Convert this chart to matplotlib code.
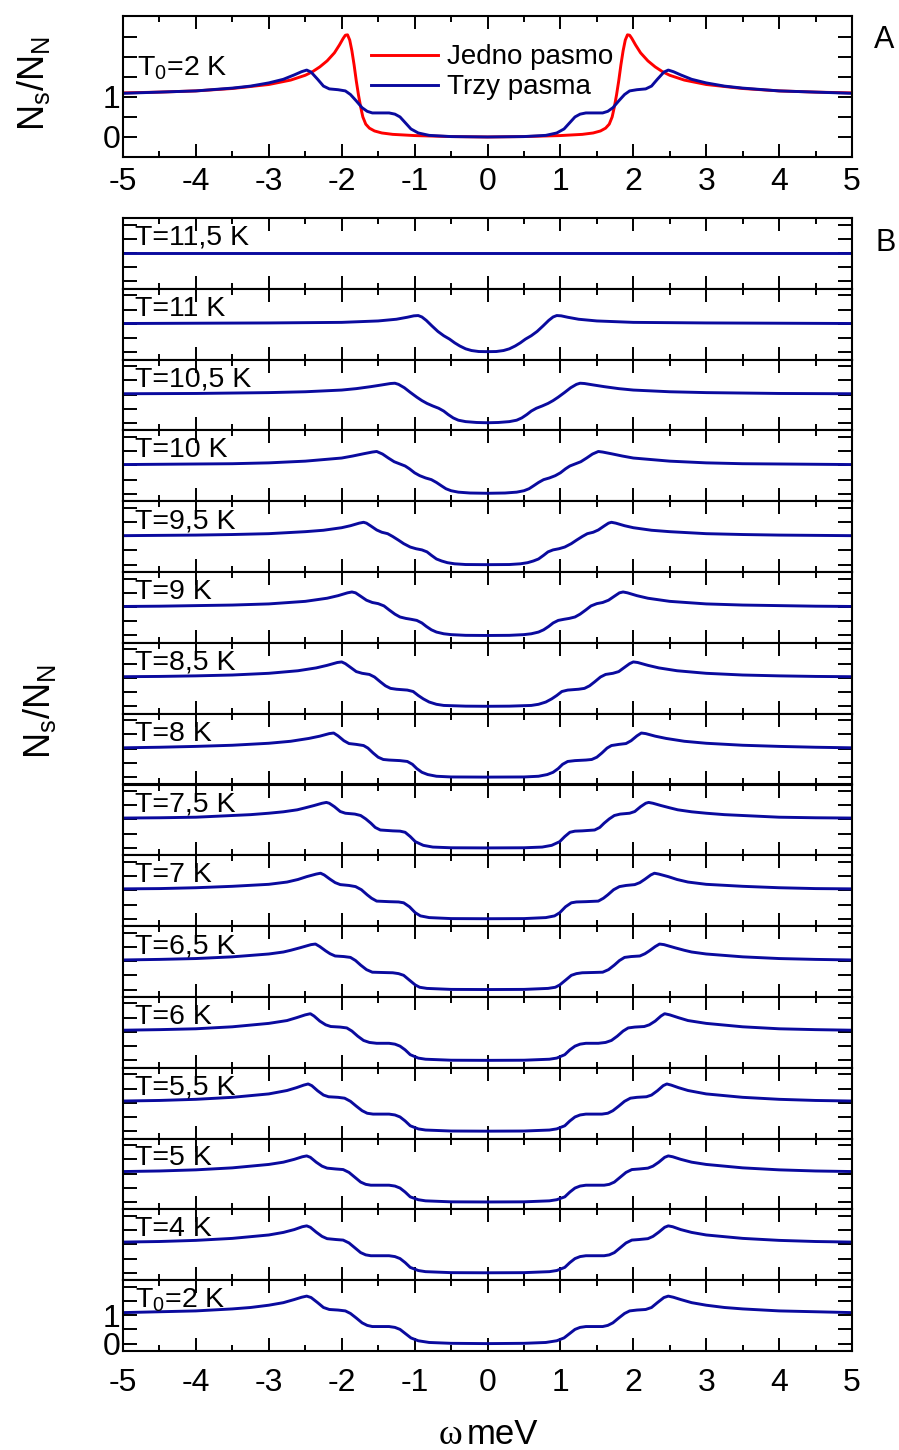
import numpy as np
import matplotlib
matplotlib.use("Agg")
import matplotlib.pyplot as plt

plt.rcParams['font.family'] = ['Liberation Sans', 'DejaVu Sans']
plt.rcParams['mathtext.fontset'] = 'custom'
plt.rcParams['mathtext.rm'] = 'Liberation Sans'
plt.rcParams['mathtext.it'] = 'Liberation Sans'
plt.rcParams['mathtext.default'] = 'regular'

# ---- data: (omega, Ns/NN) for omega >= 0; the curves are symmetric in omega ----
one_band = [(0, 0.0), (0.5, 0.01), (1.0, 0.035), (1.3, 0.065), (1.45, 0.1), (1.55, 0.15), (1.62, 0.22),
            (1.67, 0.32), (1.71, 0.5), (1.74, 0.75), (1.77, 1.05), (1.8, 1.4), (1.83, 1.8), (1.86, 2.15),
            (1.89, 2.42), (1.92, 2.55), (1.95, 2.54), (1.98, 2.46), (2.03, 2.3), (2.1, 2.1), (2.2, 1.9),
            (2.3, 1.75), (2.4, 1.63), (2.5, 1.54), (2.7, 1.42), (3.0, 1.31), (3.5, 1.21), (4.0, 1.15),
            (4.5, 1.12), (5.0, 1.1)]

T2 = [(0, 0.0), (0.5, 0.01), (0.8, 0.04), (0.95, 0.1), (1.05, 0.2), (1.13, 0.36), (1.2, 0.5), (1.27, 0.57),
      (1.35, 0.6), (1.58, 0.6), (1.65, 0.64), (1.72, 0.73), (1.8, 0.9), (1.88, 1.06), (1.95, 1.15),
      (2.05, 1.18), (2.17, 1.2), (2.25, 1.27), (2.33, 1.44), (2.42, 1.62), (2.48, 1.67), (2.55, 1.63),
      (2.65, 1.55), (2.8, 1.44), (3.0, 1.35), (3.25, 1.27), (3.5, 1.22), (4.0, 1.15), (4.5, 1.12), (5.0, 1.09)]

T4 = [(0, 0.0), (0.5, 0.005), (0.85, 0.04), (0.95, 0.08), (1.06, 0.19), (1.13, 0.36), (1.2, 0.5),
      (1.27, 0.57), (1.35, 0.6), (1.6, 0.6), (1.67, 0.63), (1.74, 0.71), (1.82, 0.88), (1.9, 1.05),
      (1.98, 1.15), (2.08, 1.17), (2.2, 1.2), (2.27, 1.28), (2.35, 1.43), (2.43, 1.6), (2.48, 1.65),
      (2.54, 1.62), (2.65, 1.52), (2.8, 1.42), (3.0, 1.33), (3.5, 1.21), (4.0, 1.14), (4.5, 1.1), (5.0, 1.08)]

T5 = [(0, 0.0), (0.5, 0.005), (0.85, 0.04), (0.95, 0.08), (1.06, 0.18), (1.13, 0.35), (1.2, 0.49),
      (1.27, 0.56), (1.35, 0.59), (1.6, 0.59), (1.67, 0.62), (1.74, 0.7), (1.82, 0.87), (1.9, 1.04),
      (1.98, 1.14), (2.08, 1.16), (2.2, 1.19), (2.27, 1.26), (2.35, 1.4), (2.43, 1.57), (2.48, 1.62),
      (2.54, 1.59), (2.65, 1.5), (2.8, 1.4), (3.0, 1.32), (3.5, 1.2), (4.0, 1.13), (4.5, 1.09), (5.0, 1.07)]

T5_5 = [(0, 0.0), (0.5, 0.005), (0.85, 0.04), (0.95, 0.08), (1.06, 0.19), (1.13, 0.36), (1.2, 0.5),
        (1.27, 0.57), (1.35, 0.6), (1.57, 0.6), (1.65, 0.63), (1.72, 0.72), (1.8, 0.88), (1.88, 1.05),
        (1.96, 1.16), (2.05, 1.19), (2.18, 1.21), (2.25, 1.27), (2.33, 1.42), (2.41, 1.6), (2.46, 1.66),
        (2.52, 1.62), (2.62, 1.53), (2.75, 1.43), (3.0, 1.31), (3.5, 1.19), (4.0, 1.12), (4.5, 1.08),
        (5.0, 1.06)]

T6 = [(0, 0.0), (0.5, 0.005), (0.85, 0.04), (0.95, 0.08), (1.06, 0.2), (1.13, 0.37), (1.2, 0.5),
      (1.27, 0.57), (1.35, 0.6), (1.52, 0.6), (1.62, 0.63), (1.7, 0.7), (1.78, 0.85), (1.86, 1.03),
      (1.93, 1.14), (2.02, 1.17), (2.15, 1.19), (2.22, 1.25), (2.3, 1.38), (2.38, 1.56), (2.43, 1.64),
      (2.5, 1.6), (2.62, 1.5), (2.75, 1.4), (3.0, 1.3), (3.5, 1.18), (4.0, 1.11), (4.5, 1.08), (5.0, 1.06)]

T6_5 = [(0, 0.0), (0.5, 0.005), (0.83, 0.04), (0.93, 0.08), (0.99, 0.16), (1.08, 0.35), (1.15, 0.5),
        (1.22, 0.56), (1.3, 0.59), (1.45, 0.6), (1.58, 0.61), (1.66, 0.7), (1.74, 0.86), (1.81, 1.02),
        (1.88, 1.13), (1.97, 1.16), (2.09, 1.18), (2.16, 1.26), (2.22, 1.36), (2.3, 1.51), (2.36, 1.6),
        (2.42, 1.58), (2.57, 1.47), (2.7, 1.38), (2.8, 1.32), (3.0, 1.25), (3.5, 1.15), (4.0, 1.09),
        (4.5, 1.06), (5.0, 1.04)]

T7 = [(0, 0.0), (0.5, 0.005), (0.8, 0.04), (0.92, 0.1), (0.99, 0.21), (1.07, 0.42), (1.15, 0.56),
      (1.22, 0.59), (1.35, 0.6), (1.52, 0.62), (1.59, 0.72), (1.65, 0.84), (1.73, 1.02), (1.81, 1.13),
      (1.9, 1.17), (2.02, 1.2), (2.09, 1.27), (2.16, 1.39), (2.24, 1.54), (2.29, 1.6), (2.35, 1.57),
      (2.48, 1.48), (2.6, 1.38), (2.75, 1.29), (3.0, 1.21), (3.5, 1.14), (4.0, 1.09), (4.5, 1.06), (5.0, 1.05)]

T7_5 = [(0, 0.0), (0.5, 0.005), (0.75, 0.03), (0.88, 0.09), (0.99, 0.22), (1.06, 0.4), (1.13, 0.55),
        (1.2, 0.59), (1.3, 0.6), (1.47, 0.63), (1.54, 0.72), (1.6, 0.87), (1.67, 1.02), (1.74, 1.14),
        (1.82, 1.19), (1.95, 1.22), (2.02, 1.28), (2.1, 1.45), (2.17, 1.57), (2.21, 1.6), (2.27, 1.57),
        (2.38, 1.49), (2.5, 1.41), (2.61, 1.34), (2.8, 1.27), (3.0, 1.22), (3.25, 1.17), (3.5, 1.14),
        (4.0, 1.08), (4.5, 1.06), (5.0, 1.05)]

T8 = [(0, 0.0), (0.5, 0.005), (0.7, 0.03), (0.82, 0.09), (0.9, 0.17), (0.97, 0.3), (1.03, 0.45),
      (1.1, 0.55), (1.2, 0.58), (1.35, 0.6), (1.43, 0.62), (1.5, 0.7), (1.57, 0.85), (1.64, 1.02),
      (1.7, 1.11), (1.8, 1.15), (1.9, 1.18), (1.97, 1.28), (2.05, 1.45), (2.11, 1.55), (2.17, 1.53),
      (2.3, 1.44), (2.45, 1.36), (2.7, 1.26), (3.0, 1.19), (3.5, 1.12), (4.0, 1.08), (4.5, 1.05), (5.0, 1.03)]

T8_5 = [(0, 0.0), (0.3, 0.005), (0.6, 0.03), (0.7, 0.07), (0.8, 0.15), (0.88, 0.26), (0.95, 0.38),
        (1.02, 0.52), (1.1, 0.57), (1.25, 0.6), (1.33, 0.63), (1.4, 0.72), (1.47, 0.86), (1.55, 1.03),
        (1.62, 1.12), (1.72, 1.16), (1.8, 1.22), (1.88, 1.37), (1.95, 1.5), (2.0, 1.56), (2.06, 1.54),
        (2.2, 1.44), (2.35, 1.35), (2.6, 1.25), (3.0, 1.16), (3.5, 1.1), (4.0, 1.07), (4.5, 1.05), (5.0, 1.04)]

T9 = [(0, 0.0), (0.3, 0.005), (0.5, 0.03), (0.6, 0.06), (0.7, 0.12), (0.77, 0.2), (0.84, 0.32),
      (0.9, 0.44), (0.97, 0.53), (1.05, 0.57), (1.12, 0.6), (1.2, 0.65), (1.27, 0.75), (1.35, 0.9),
      (1.42, 1.04), (1.5, 1.12), (1.58, 1.16), (1.66, 1.24), (1.74, 1.38), (1.81, 1.5), (1.86, 1.53),
      (1.92, 1.5), (2.05, 1.4), (2.2, 1.31), (2.5, 1.2), (3.0, 1.11), (3.5, 1.07), (4.0, 1.05), (4.5, 1.03),
      (5.0, 1.02)]

T9_5 = [(0, 0.0), (0.3, 0.005), (0.45, 0.03), (0.55, 0.07), (0.63, 0.13), (0.7, 0.2), (0.77, 0.33),
        (0.83, 0.45), (0.9, 0.52), (0.98, 0.56), (1.06, 0.62), (1.15, 0.74), (1.22, 0.86), (1.3, 0.99),
        (1.37, 1.09), (1.45, 1.14), (1.52, 1.22), (1.6, 1.36), (1.66, 1.46), (1.7, 1.49), (1.76, 1.46),
        (1.88, 1.37), (2.0, 1.3), (2.25, 1.21), (2.5, 1.16), (3.0, 1.09), (3.5, 1.06), (4.0, 1.04),
        (4.5, 1.03), (5.0, 1.02)]

T10 = [(0, 0.02), (0.24, 0.03), (0.4, 0.06), (0.5, 0.11), (0.57, 0.18), (0.63, 0.28), (0.7, 0.4),
       (0.77, 0.5), (0.85, 0.56), (0.93, 0.64), (1.0, 0.74), (1.07, 0.88), (1.13, 0.98), (1.2, 1.05),
       (1.28, 1.13), (1.36, 1.26), (1.44, 1.4), (1.52, 1.49), (1.58, 1.47), (1.7, 1.41), (1.85, 1.33),
       (2.0, 1.26), (2.5, 1.15), (3.0, 1.09), (3.5, 1.06), (4.0, 1.05), (5.0, 1.03)]

T10_5 = [(0, 0.01), (0.15, 0.02), (0.3, 0.05), (0.4, 0.1), (0.47, 0.18), (0.54, 0.3), (0.6, 0.42),
         (0.67, 0.52), (0.75, 0.6), (0.83, 0.69), (0.9, 0.79), (0.97, 0.91), (1.06, 1.08), (1.14, 1.24),
         (1.22, 1.36), (1.27, 1.4), (1.33, 1.39), (1.45, 1.34), (1.6, 1.28), (1.8, 1.21), (2.0, 1.16),
         (2.5, 1.1), (3.0, 1.07), (4.0, 1.04), (5.0, 1.03)]

T11 = [(0, 0.02), (0.12, 0.025), (0.22, 0.06), (0.3, 0.12), (0.38, 0.22), (0.45, 0.33), (0.52, 0.46),
       (0.6, 0.58), (0.68, 0.73), (0.76, 0.92), (0.84, 1.12), (0.9, 1.24), (0.95, 1.29), (1.01, 1.28),
       (1.1, 1.23), (1.25, 1.16), (1.5, 1.1), (2.0, 1.05), (3.0, 1.03), (4.0, 1.02), (5.0, 1.01)]

T11_5 = [(0, 1.0), (5.0, 1.0)]

b_curves = [T11_5, T11, T10_5, T10, T9_5, T9, T8_5, T8, T7_5, T7, T6_5, T6, T5_5, T5, T4, T2]
b_labels = ["T=11,5 K", "T=11 K", "T=10,5 K", "T=10 K", "T=9,5 K", "T=9 K", "T=8,5 K", "T=8 K",
            "T=7,5 K", "T=7 K", "T=6,5 K", "T=6 K", "T=5,5 K", "T=5 K", "T=4 K", "T$_0$=2 K"]
legend_labels = ["Jedno pasmo", "Trzy pasma"]
x_ticks = [-5, -4, -3, -2, -1, 0, 1, 2, 3, 4, 5]

RED = '#FF0000'
BLUE = '#0A0A9E'
TICK_FS = 23
LAB_FS = 20.5


def full(half):
    w = np.array([p[0] for p in half], dtype=float)
    n = np.array([p[1] for p in half], dtype=float)
    W = np.concatenate([-w[::-1], w[1:]])
    N = np.concatenate([n[::-1], n[1:]])
    return W, N


def style_axes(ax, ymax_tick, show_xlabels, show_ylabels, xpad):
    ax.set_xlim(-5, 5)
    ax.set_xticks(x_ticks)
    ax.set_xticks(np.arange(-4.5, 5.0, 1.0), minor=True)
    yt = np.arange(0, ymax_tick + 0.01, 0.5)
    ax.set_yticks(yt)
    if show_ylabels:
        ax.set_yticklabels(['0' if v == 0 else ('1' if v == 1 else '') for v in yt])
    else:
        ax.set_yticklabels([])
    if show_xlabels:
        ax.set_xticklabels([str(v) for v in x_ticks])
    else:
        ax.set_xticklabels([])
    ax.tick_params(which='both', direction='in', top=True, right=True, width=1.4, colors='black')
    ax.tick_params(axis='x', which='major', length=9.5, labelsize=TICK_FS, pad=xpad)
    ax.tick_params(axis='x', which='minor', length=4.5)
    ax.tick_params(axis='y', which='major', length=10, labelsize=TICK_FS, pad=2)
    for s in ax.spines.values():
        s.set_linewidth(1.5)


fig = plt.figure(figsize=(8.99, 14.50), dpi=100)
H = 1450.0
W = 899.0
left = 123 / W
width = (852 - 123) / W

# ---- panel A ----
axA = fig.add_axes([left, 1 - 157 / H, width, (157 - 16) / H])
wr, nr = full(one_band)
wb, nb = full(T2)
axA.plot(wr, nr, color=RED, lw=2.1, label=legend_labels[0])
axA.plot(wb, nb, color=BLUE, lw=2.1, label=legend_labels[1])
axA.set_ylim(-0.5, 3.02)
style_axes(axA, 2.5, True, True, 7)
axA.text(0.019, 0.58, "T$_0$=2 K", transform=axA.transAxes, fontsize=LAB_FS, ha='left', va='baseline')
axA.legend(loc='center left', bbox_to_anchor=(0.325, 0.60), frameon=False, fontsize=20,
           handlelength=2.4, handletextpad=0.35, labelspacing=0.15, borderaxespad=0)

# ---- panel B ----
top = 218.0
hp = (1351.0 - 218.0) / len(b_curves)
for i, (cur, lab) in enumerate(zip(b_curves, b_labels)):
    y_top = top + hp * i
    ax = fig.add_axes([left, 1 - (y_top + hp) / H, width, hp / H])
    w, n = full(cur)
    ax.plot(w, n, color=BLUE, lw=2.1)
    ax.set_ylim(-0.26, 2.23)
    last = (i == len(b_curves) - 1)
    style_axes(ax, 2.0, last, last, 12)
    ax.text(0.016, 0.62, lab, transform=ax.transAxes, fontsize=LAB_FS, ha='left', va='baseline')

# ---- labels ----
fig.text(33 / W, 1 - 84 / H, "N$_s$/N$_N$", rotation=90, fontsize=26, ha='center', va='center')
fig.text(40 / W, 1 - 712 / H, "N$_s$/N$_N$", rotation=90, fontsize=26, ha='center', va='center')
fig.text(874 / W, 1 - 48 / H, "A", fontsize=22, ha='left', va='baseline')
fig.text(875 / W, 1 - 251 / H, "B", fontsize=22, ha='left', va='baseline')
fig.text(462 / W, 1 - 1444 / H, "ω", fontsize=26, family=['Liberation Serif', 'DejaVu Serif'],
         ha='right', va='baseline')
fig.text(467 / W, 1 - 1444 / H, "meV", fontsize=25, ha='left', va='baseline')

fig.savefig("out.png", dpi=100)
